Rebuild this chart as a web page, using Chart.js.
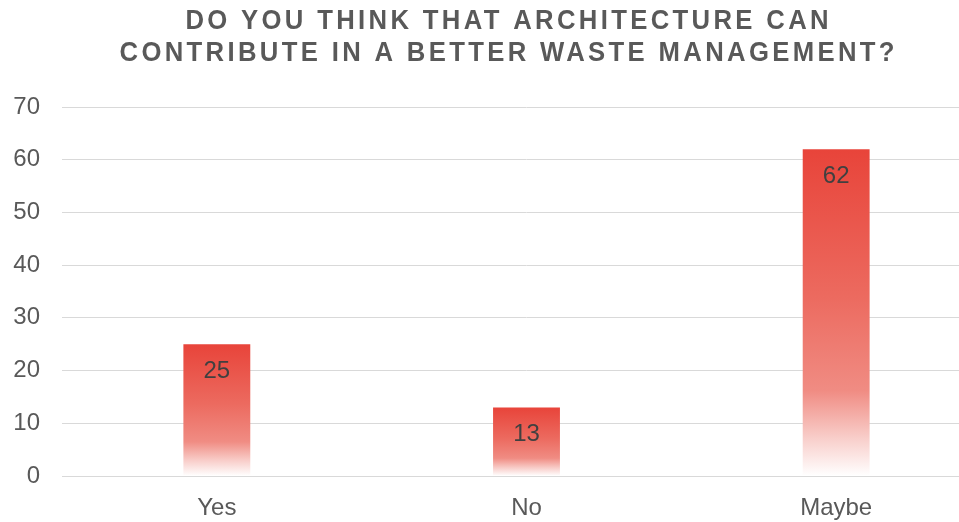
<!DOCTYPE html>
<html>
<head>
<meta charset="utf-8">
<script src="https://cdn.jsdelivr.net/npm/chart.js@4"></script>
<style>
html,body{margin:0;padding:0;background:#fff;overflow:hidden;}
#wrap{width:1014px;height:522px;}
</style>
</head>
<body>
<div id="wrap"><canvas id="c" width="1014" height="522"></canvas></div>
<script>
const categories = ["Yes", "No", "Maybe"];
const values = [25, 13, 62];
const yTicks = [0, 10, 20, 30, 40, 50, 60, 70];
const titleLines = ["DO YOU THINK THAT ARCHITECTURE CAN", "CONTRIBUTE IN A BETTER WASTE MANAGEMENT?"];

function barGradient(ctx) {
  const chart = ctx.chart;
  const ys = chart.scales.y;
  if (!ys || ctx.dataIndex === undefined) return '#E8453A';
  const top = ys.getPixelForValue(ctx.raw);
  const base = ys.getPixelForValue(0);
  if (!isFinite(top) || !isFinite(base) || top === base) return '#E8453A';
  const g = chart.ctx.createLinearGradient(0, top, 0, base);
  g.addColorStop(0, '#E8443A');
  g.addColorStop(0.45, '#EC6A5F');
  g.addColorStop(0.74, '#F08C83');
  g.addColorStop(0.88, '#F8CCC8');
  g.addColorStop(1, '#FFFFFF');
  return g;
}

const valueLabels = {
  id: 'valueLabels',
  afterDatasetsDraw(chart) {
    const ctx = chart.ctx;
    const meta = chart.getDatasetMeta(0);
    ctx.save();
    ctx.font = '24px "Liberation Sans", Arial, sans-serif';
    ctx.fillStyle = '#404040';
    ctx.textAlign = 'center';
    ctx.textBaseline = 'middle';
    meta.data.forEach((el, i) => {
      ctx.fillText(String(values[i]), el.x, el.y + 27);
    });
    ctx.restore();
  }
};

const spacedTitle = {
  id: 'spacedTitle',
  afterDraw(chart) {
    const ctx = chart.ctx;
    const ls = 3.5;
    ctx.save();
    ctx.font = 'bold 27px "Liberation Sans", Arial, sans-serif';
    ctx.fillStyle = '#595959';
    ctx.textBaseline = 'middle';
    ctx.textAlign = 'left';
    if ('letterSpacing' in ctx) ctx.letterSpacing = ls + 'px';
    const widths = titleLines.map(l => ctx.measureText(l).width - ls);
    const sx = Math.min(1, 775 / widths[1]);
    const cx = chart.width / 2;
    titleLines.forEach((line, i) => {
      ctx.save();
      ctx.translate(cx - widths[i] * sx / 2, 22 + i * 32);
      ctx.scale(sx, 1);
      ctx.fillText(line, 0, 0);
      ctx.restore();
    });
    ctx.restore();
  }
};

new Chart(document.getElementById('c'), {
  type: 'bar',
  data: {
    labels: categories,
    datasets: [{
      data: values,
      backgroundColor: barGradient,
      borderWidth: 0,
      categoryPercentage: 1,
      barPercentage: 0.216
    }]
  },
  options: {
    responsive: false,
    animation: false,
    layout: { padding: { left: 0, right: 23, top: 107, bottom: 0 } },
    plugins: {
      legend: { display: false },
      tooltip: { enabled: false },
      title: { display: false }
    },
    scales: {
      x: {
        grid: { display: false, drawTicks: false },
        border: { display: true, color: '#D9D9D9', width: 1 },
        ticks: { color: '#595959', font: { family: '"Liberation Sans", Arial, sans-serif', size: 24 }, padding: 18 },
        afterFit(scale) { scale.height = 46; }
      },
      y: {
        min: 0, max: 70,
        afterBuildTicks(axis) { axis.ticks = yTicks.map(v => ({ value: v })); },
        grid: { color: '#D9D9D9', lineWidth: 1, drawTicks: false },
        border: { display: false },
        ticks: { color: '#595959', font: { family: '"Liberation Sans", Arial, sans-serif', size: 24 }, padding: 22 },
        afterFit(scale) { scale.width = 62; }
      }
    }
  },
  plugins: [valueLabels, spacedTitle]
});
</script>
</body>
</html>
